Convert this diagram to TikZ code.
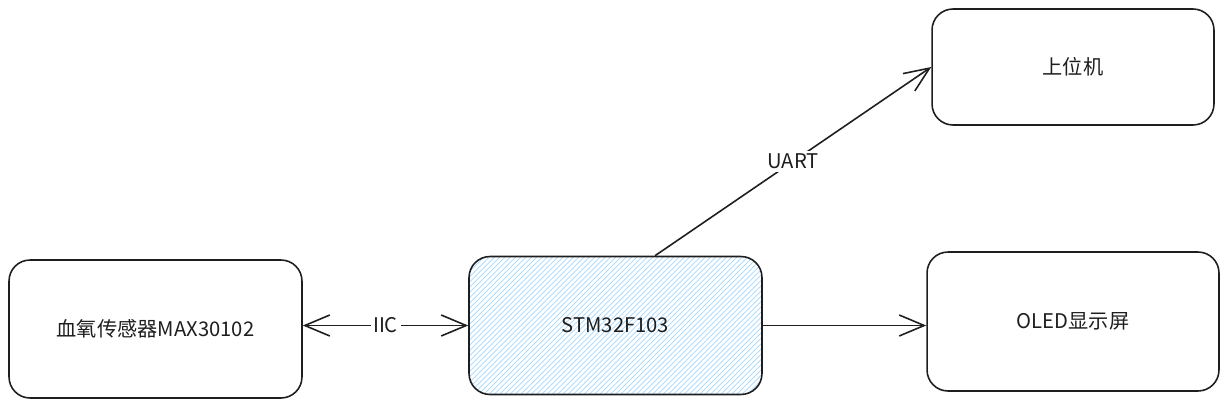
\documentclass[tikz,border=0pt]{standalone}
\usepackage{fontspec}
\setmainfont{Noto Sans CJK SC}
\usetikzlibrary{arrows.meta, patterns, positioning}
\definecolor{inkgray}{HTML}{1E1E1E}
\definecolor{hatchblue}{HTML}{A5D8FF}
\tikzset{block/.style={draw=inkgray,rounded corners=0.42cm,line width=0.9pt,text=inkgray,font=\fontsize{11.5}{14}\selectfont,minimum width=5.86cm,minimum height=2.76cm,inner sep=0pt}}
\tikzset{mcu/.style={block,pattern=north east lines,pattern color=hatchblue}}
\tikzset{tag/.style={fill=white,inner sep=1.5pt,text=inkgray,font=\fontsize{11.5}{14}\selectfont}}

\begin{document}
\begin{tikzpicture}[%
		> = {Straight Barb[length=5mm,width=4.2mm]}, % open arrow head
		x = 0.02cm, y = -0.02cm, % pixel grid
		line width = 0.9pt, % line style
		draw = inkgray
		]
		\useasboundingbox (0,0) rectangle (1229,409);
		
		\node[block] (sensor) at (155.5,329) {血氧传感器MAX30102};
		\node[mcu] (stm) at (615.5,325.5) {STM32F103};
		\node[block,minimum width=5.64cm,minimum height=2.32cm] (pc) at (1073,67) {上位机};
		\node[block,minimum width=5.84cm,minimum height=2.78cm] (oled) at (1073,321.5) {OLED显示屏};
		
		% Bus
		\draw[<->] (stm.west) -- node[tag] {IIC} (sensor.east |- stm.west);
		
		% Outputs
		\draw[->] ([xshift=0.79cm]stm.north) -- node[tag] {UART} (pc.west);
		\draw[->] (stm.east) -- (oled.west |- stm.east);
		\end{tikzpicture}
\end{document}
